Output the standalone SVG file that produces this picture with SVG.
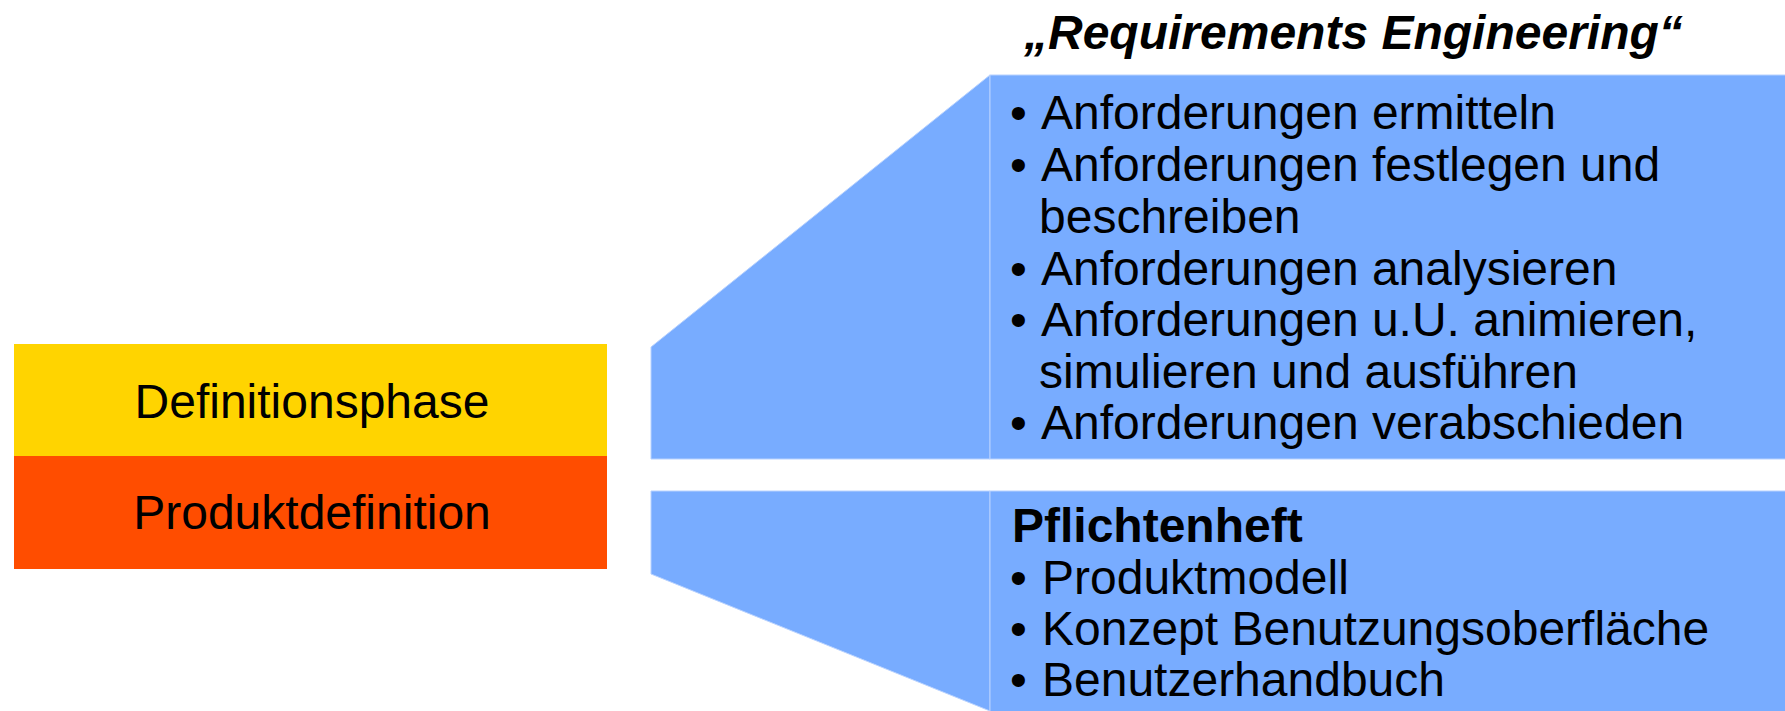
<svg xmlns="http://www.w3.org/2000/svg" width="1785" height="711" viewBox="0 0 1785 711">
  <style>
    .txt { font-family: "Liberation Sans", Arial, sans-serif; font-size: 48px; fill: #000; }
    .bold { font-weight: bold; }
    .title { font-weight: bold; font-style: italic; font-size: 48px; }
    .panel { fill: #78acff; stroke: #b8d2ff; stroke-width: 1; }
    .funnel { fill: #78acff; stroke: #b8d2ff; stroke-width: 1; }
  </style>
  <rect width="1785" height="711" fill="#ffffff"/>

  <!-- phase blocks -->
  <g id="definitionsphase">
    <rect x="14" y="344" width="593" height="112" fill="#ffd400"/>
    <text class="txt" x="312" y="418" text-anchor="middle">Definitionsphase</text>
  </g>
  <g id="produktdefinition">
    <rect x="14" y="456" width="593" height="113" fill="#ff4d00"/>
    <text class="txt" x="312" y="529" text-anchor="middle">Produktdefinition</text>
  </g>

  <!-- funnels widening from the phase blocks to the detail panels -->
  <g id="connectors">
    <polygon class="funnel" points="651,347 990,75 990,459 651,459"/>
    <polygon class="funnel" points="651,491 990,491 990,711 651,574"/>
  </g>

  <!-- caption above the upper panel -->
  <g id="caption">
    <text class="txt title" x="1024" y="49">„Requirements Engineering“</text>
  </g>

  <g id="requirements-engineering">
    <rect class="panel" x="990" y="75" width="800" height="384"/>
    <text class="txt" x="1010" y="129">•<tspan x="1041">Anforderungen ermitteln</tspan></text>
    <text class="txt" x="1010" y="181">•<tspan x="1041">Anforderungen festlegen und</tspan></text>
    <text class="txt" x="1039" y="233">beschreiben</text>
    <text class="txt" x="1010" y="285">•<tspan x="1041">Anforderungen analysieren</tspan></text>
    <text class="txt" x="1010" y="336">•<tspan x="1041">Anforderungen u.U. animieren,</tspan></text>
    <text class="txt" x="1039" y="388">simulieren und ausführen</text>
    <text class="txt" x="1010" y="439">•<tspan x="1041">Anforderungen verabschieden</tspan></text>
  </g>

  <g id="pflichtenheft">
    <rect class="panel" x="990" y="491" width="800" height="225"/>
    <text class="txt bold" x="1012" y="542">Pflichtenheft</text>
    <text class="txt" x="1010" y="594">•<tspan x="1042">Produktmodell</tspan></text>
    <text class="txt" x="1010" y="645">•<tspan x="1042">Konzept Benutzungsoberfläche</tspan></text>
    <text class="txt" x="1010" y="696">•<tspan x="1042">Benutzerhandbuch</tspan></text>
  </g>
</svg>
